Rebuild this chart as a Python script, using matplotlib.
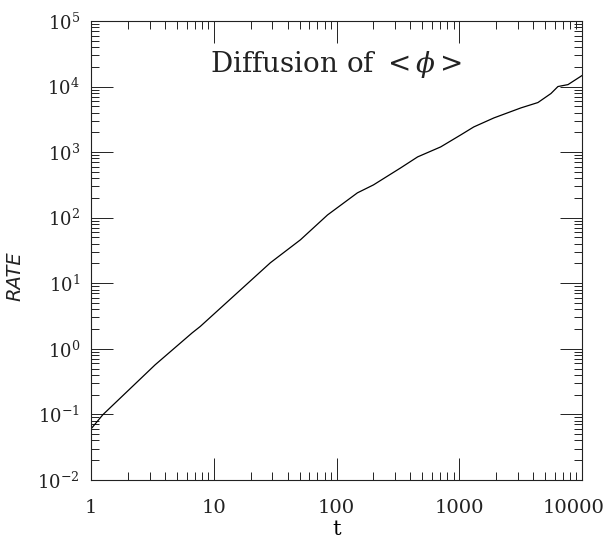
import matplotlib
matplotlib.use("Agg")
import matplotlib.pyplot as plt
import matplotlib.transforms as mtransforms
from matplotlib.ticker import LogLocator, FixedLocator, FixedFormatter, NullFormatter

plt.rcParams['font.family'] = ['DejaVu Serif']
plt.rcParams['mathtext.fontset'] = 'dejavuserif'

t = [1.0, 1.25, 3.33, 6.67, 7.76, 16.5, 28.9, 50.8, 84.5, 148, 200, 333, 458,
     706, 1028, 1313, 1914, 3177, 4375, 5585, 6370, 7690, 10000]
rate = [0.060, 0.099, 0.57, 1.75, 2.19, 7.9, 20.5, 45.9, 110, 239, 316, 574, 845,
        1200, 1828, 2420, 3320, 4720, 5700, 7820, 10000, 10700, 14700]

xticks = [1, 10, 100, 1000, 10000]
xlabels = ["1", "10", "100", "1000", "10000"]
yticks = [1e-2, 1e-1, 1e0, 1e1, 1e2, 1e3, 1e4, 1e5]
ylabels = [r"$10^{-2}$", r"$10^{-1}$", r"$10^{0}$", r"$10^{1}$", r"$10^{2}$",
           r"$10^{3}$", r"$10^{4}$", r"$10^{5}$"]

fig = plt.figure(figsize=(6.11, 5.38), dpi=100)
ax = fig.add_axes([0.149, 0.108, 0.8035, 0.853])
ax.plot(t, rate, color='black', lw=0.9)
ax.set_xscale('log')
ax.set_yscale('log')
ax.set_xlim(1, 10000)
ax.set_ylim(1e-2, 1e5)

ax.xaxis.set_major_locator(FixedLocator(xticks))
ax.xaxis.set_major_formatter(FixedFormatter(xlabels))
ax.yaxis.set_major_locator(FixedLocator(yticks))
ax.yaxis.set_major_formatter(FixedFormatter(ylabels))
ax.xaxis.set_minor_locator(LogLocator(base=10, subs=range(2, 10)))
ax.yaxis.set_minor_locator(LogLocator(base=10, subs=range(2, 10)))
ax.xaxis.set_minor_formatter(NullFormatter())
ax.yaxis.set_minor_formatter(NullFormatter())

ax.tick_params(which='both', direction='in', top=True, right=True, width=0.7, colors='#222222')
ax.tick_params(which='major', length=16)
ax.tick_params(which='minor', length=6)
ax.tick_params(axis='x', which='major', pad=14, labelsize=14)
ax.tick_params(axis='y', which='major', pad=8, labelsize=13)
for s in ax.spines.values():
    s.set_linewidth(0.8)
    s.set_color('#222222')

fig.canvas.draw()
last = ax.xaxis.get_major_ticks()[-1].label1
last.set_transform(last.get_transform() +
                   mtransforms.ScaledTranslation(-6 / 72, 0, fig.dpi_scale_trans))

ax.text(0.5, 0.905, r"Diffusion of $<\phi>$", transform=ax.transAxes,
        ha='center', va='center', fontsize=20, color='#222222')
ax.set_xlabel("t", fontsize=15, labelpad=2)
fig.text(0.025, 0.487, "RATE", rotation=90, ha='center', va='center',
         fontsize=14, style='italic', family='DejaVu Sans', color='#222222')

fig.savefig("out.png", dpi=100)
